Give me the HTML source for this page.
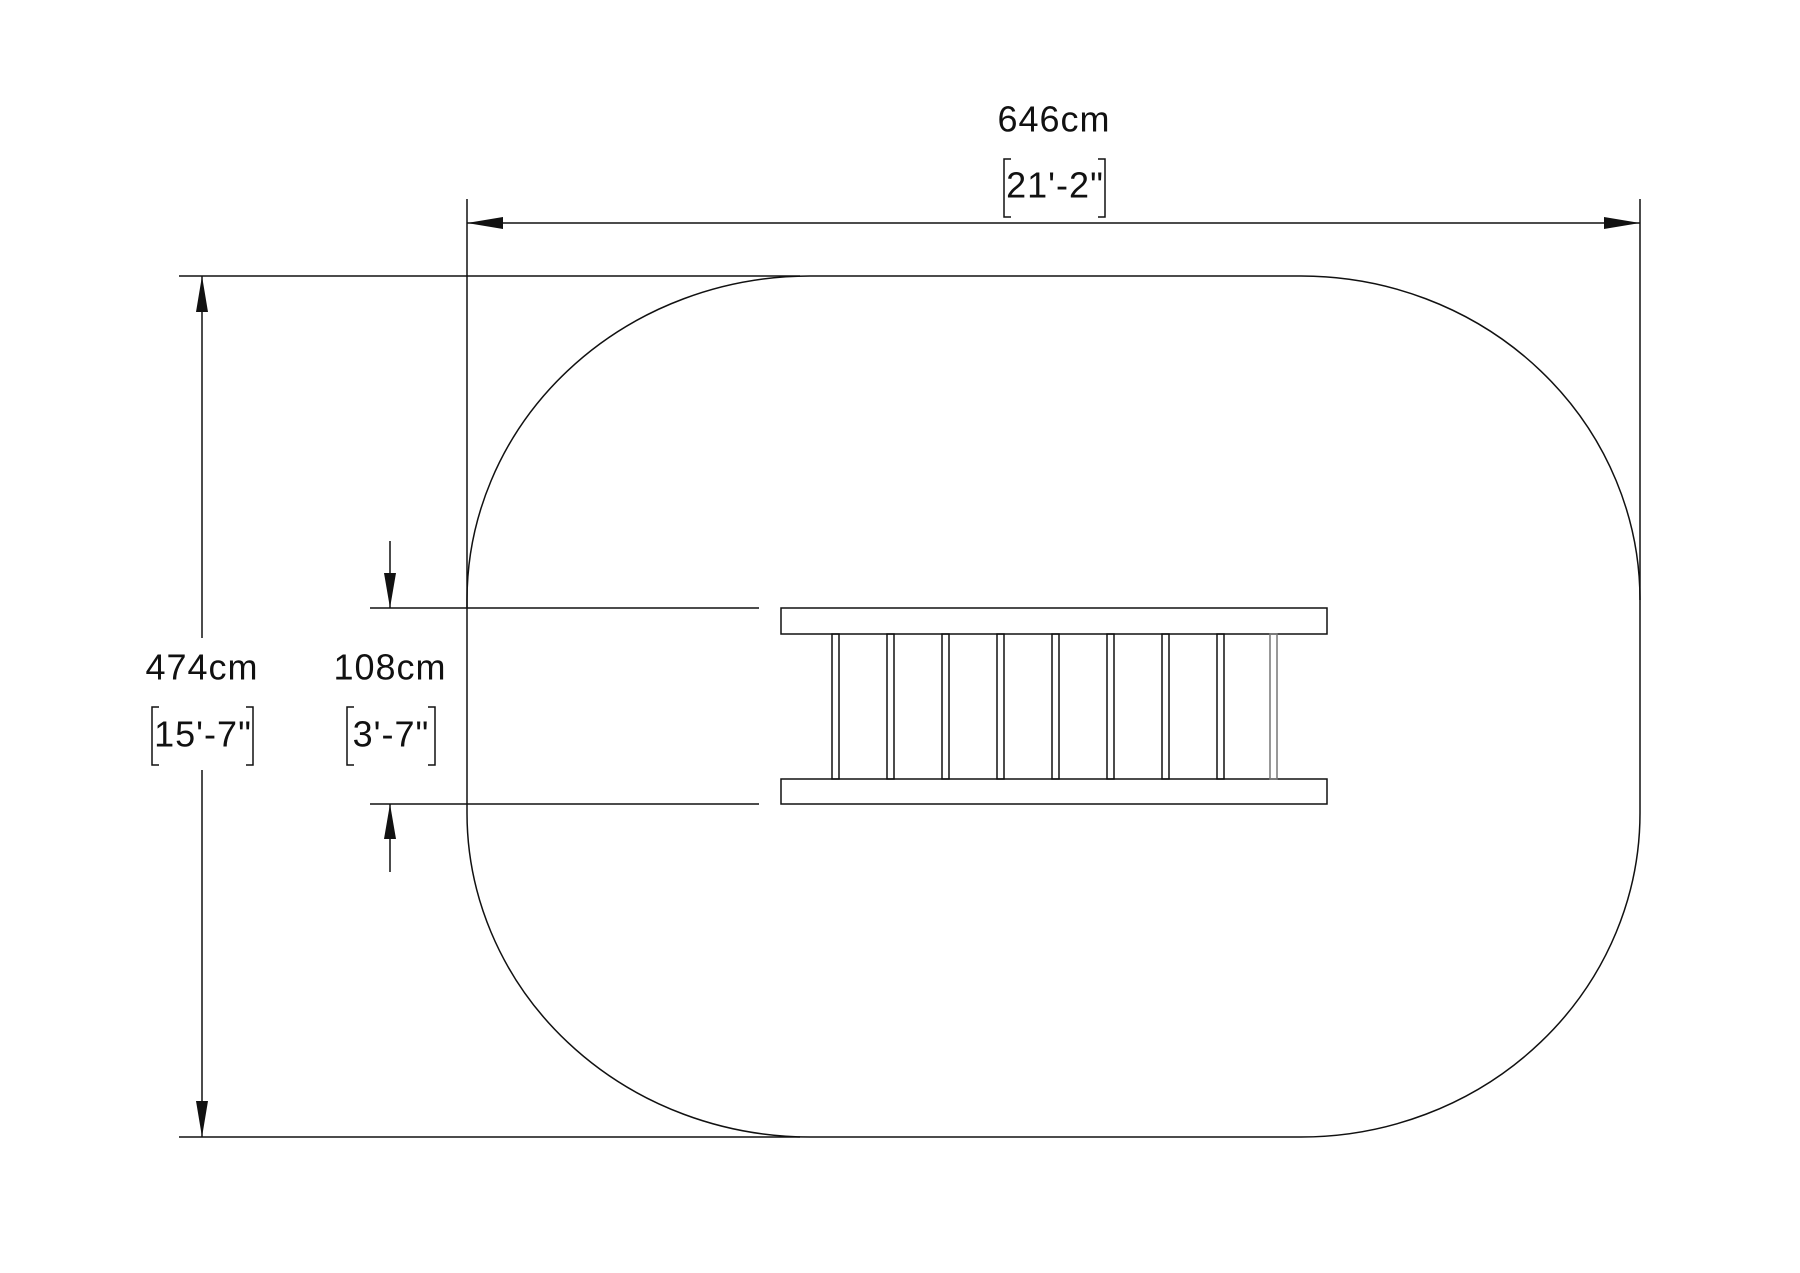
<!DOCTYPE html>
<html><head><meta charset="utf-8"><style>
html,body{margin:0;padding:0;background:#fff}
svg{display:block}
text{font-family:"Liberation Sans",sans-serif;font-size:36px;letter-spacing:1px;fill:#111;text-anchor:middle;dominant-baseline:middle}
</style></head><body>
<svg width="1800" height="1273" viewBox="0 0 1800 1273" xmlns="http://www.w3.org/2000/svg">
<g stroke="#111" stroke-width="1.5" fill="none">
<path d="M810,276 L1301,276 A339,324 0 0 1 1640,600 L1640,813 A339,324 0 0 1 1301,1137 L810,1137 A343,324 0 0 1 467,813 L467,600 A343,324 0 0 1 810,276 Z"/>
<line x1="467" y1="199" x2="467" y2="608"/>
<line x1="1640" y1="199" x2="1640" y2="600"/>
<line x1="467" y1="223" x2="1640" y2="223"/>
<line x1="179" y1="276" x2="800" y2="276"/>
<line x1="179" y1="1137" x2="800" y2="1137"/>
<line x1="202" y1="276" x2="202" y2="638"/>
<line x1="202" y1="770" x2="202" y2="1137"/>
<line x1="370" y1="608" x2="759" y2="608"/>
<line x1="370" y1="804" x2="759" y2="804"/>
<line x1="390" y1="541" x2="390" y2="608"/>
<line x1="390" y1="804" x2="390" y2="872"/>
<path d="M1011,159 L1004,159 L1004,217 L1011,217 M1098,159 L1105,159 L1105,217 L1098,217"/>
<path d="M159,707 L152,707 L152,765 L159,765 M246,707 L253,707 L253,765 L246,765"/>
<path d="M354,707 L347,707 L347,765 L354,765 M428,707 L435,707 L435,765 L428,765"/>
<rect x="781" y="608" width="546" height="26"/>
<rect x="781" y="779" width="546" height="25"/>
<rect x="832" y="634" width="7" height="145"/>
<rect x="887" y="634" width="7" height="145"/>
<rect x="942" y="634" width="7" height="145"/>
<rect x="997" y="634" width="7" height="145"/>
<rect x="1052" y="634" width="7" height="145"/>
<rect x="1107" y="634" width="7" height="145"/>
<rect x="1162" y="634" width="7" height="145"/>
<rect x="1217" y="634" width="7" height="145"/>
<rect x="1270" y="634" width="7" height="145" stroke="#777"/>
</g>
<g fill="#111">
<polygon points="467,223 503,217 503,229"/>
<polygon points="1640,223 1604,217 1604,229"/>
<polygon points="202,276 196,312 208,312"/>
<polygon points="202,1137 196,1101 208,1101"/>
<polygon points="390,608 384,573 396,573"/>
<polygon points="390,804 384,839 396,839"/>
</g>
<text x="1054" y="122">646cm</text>
<text x="1055" y="188">21'-2"</text>
<text x="202" y="670">474cm</text>
<text x="203" y="737">15'-7"</text>
<text x="390" y="670">108cm</text>
<text x="391" y="737">3'-7"</text>
</svg>
</body></html>
